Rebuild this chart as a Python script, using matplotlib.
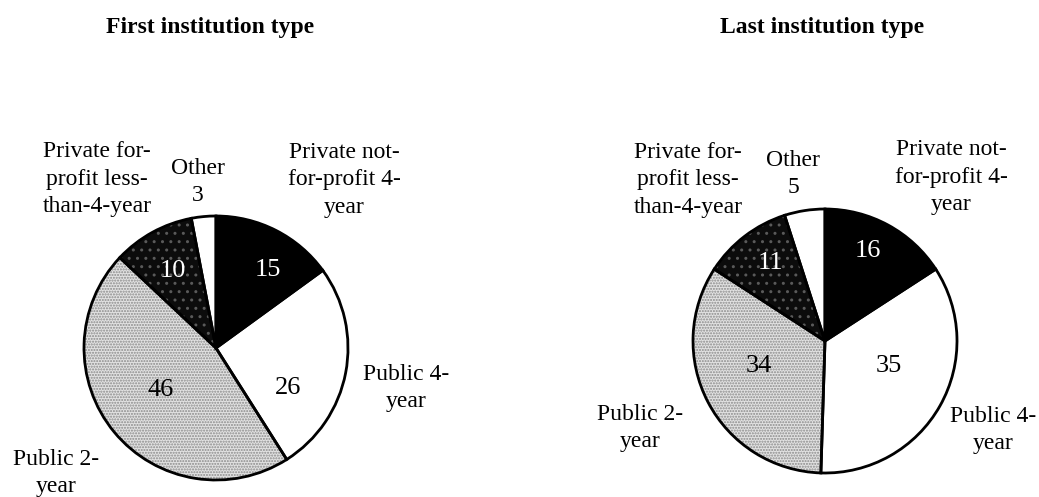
import matplotlib.pyplot as plt

# shares of students by institution type (percent)
categories = ['Private not-\nfor-profit 4-\nyear', 'Public 4-\nyear', 'Public 2-\nyear',
              'Private for-\nprofit less-\nthan-4-year', 'Other']
first_values = [15, 26, 46, 10, 3]
last_values = [16, 35, 34, 11, 5]
titles = ['First institution type', 'Last institution type']

# wedge styles: fill, hatch, hatch colour
fills = ['black', 'white', '#e2e2e2', '#0c0c0c', 'white']
hatches = ['', '', '......', '..', '']
hatch_cols = ['black', 'white', '#8a8a8a', '#5a5a5a', 'white']

# layout in pixels (y measured from the top)
centers = [(216, 348), (825, 341)]
radius = 132
title_pos = [(210, 28), (822, 27)]
label_pos = [
    [(344, 180), (406, 388), (56, 473), (97, 179), (198, 182)],
    [(951, 177), (993, 430), (640, 428), (688, 180), (793, 174)],
]
value_pos = [
    [(268, 270), (288, 388), (161, 390), (173, 271)],
    [(868, 251), (889, 366), (759, 366), (770, 263)],
]
value_cols = ['white', 'black', 'black', 'white']

plt.rcParams['font.family'] = ['Liberation Serif', 'DejaVu Serif']

fig = plt.figure(figsize=(10.39, 4.97), dpi=100)
ax = fig.add_axes([0, 0, 1, 1])

for i, vals in enumerate([first_values, last_values]):
    # fills and hatching first, then black outlines on top
    wedges, _ = ax.pie(vals, center=centers[i], radius=radius, startangle=-90,
                       counterclock=True, colors=fills,
                       wedgeprops=dict(linewidth=0))
    for w, h, hc in zip(wedges, hatches, hatch_cols):
        w.set_hatch(h)
        w.set_edgecolor(hc)
    ax.pie(vals, center=centers[i], radius=radius, startangle=-90,
           counterclock=True, colors=['none'] * len(vals),
           wedgeprops=dict(linewidth=2, edgecolor='black'))

    ax.text(title_pos[i][0], title_pos[i][1], titles[i], ha='center', va='center',
            fontsize=17, fontweight='bold')

    for j, cat in enumerate(categories):
        txt = cat
        if j == 4:
            txt = cat + '\n' + str(vals[j])
        ax.text(label_pos[i][j][0], label_pos[i][j][1], txt, ha='center', va='center',
                multialignment='center', fontsize=17, linespacing=1.38)

    for j in range(4):
        ax.text(value_pos[i][j][0], value_pos[i][j][1], str(vals[j]), ha='center',
                va='center', fontsize=19, color=value_cols[j])

ax.set_xlim(0, 1039)
ax.set_ylim(497, 0)
ax.axis('off')

fig.savefig('out.png', dpi=100, facecolor='white')
